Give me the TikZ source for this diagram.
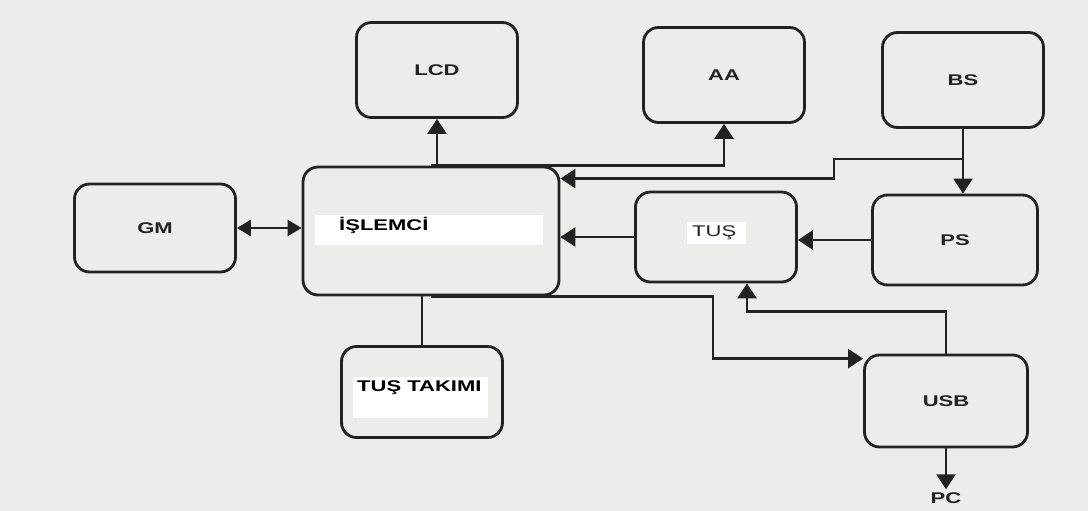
\documentclass[tikz,border=0pt]{standalone}
\usepackage{fontspec}
\setmainfont{Liberation Sans}
\newfontfamily\lblfont[FakeStretch=1.42]{Liberation Sans}
\usetikzlibrary{arrows.meta,calc}
\definecolor{paper}{RGB}{236,236,233}
\definecolor{ink}{RGB}{34,34,34}
\begin{document}
\begin{tikzpicture}[x=1pt,y=-1pt,
  blk/.style={draw=ink, line width=2.8pt, rounded corners=15pt,
    minimum width=161pt, minimum height=95pt, inner sep=0pt,
    font=\lblfont\bfseries\fontsize{15.5}{17}\selectfont, text=ink},
  lbl/.style={inner sep=0pt, font=\lblfont\bfseries\fontsize{15.5}{17}\selectfont, text=black},
  con/.style={draw=ink, line width=2.6pt, -{Triangle[length=15pt,width=19pt]}},
  dcon/.style={draw=ink, line width=2.6pt, {Triangle[length=14pt,width=16pt]}-{Triangle[length=14pt,width=16pt]}},
  plain/.style={draw=ink, line width=2.6pt}]
\fill[paper] (0,0) rectangle (1088,511);
\useasboundingbox (0,0) rectangle (1088,511);

% boxes
\node[blk] (lcd) at (437,70) {LCD};
\node[blk] (aa) at (724,75) {AA};
\node[blk] (bs) at (963,80) {BS};
\node[blk, minimum height=88pt] (gm) at (155,228) {GM};
\node[blk, minimum width=256pt, minimum height=128pt] (isl) at (431,231) {};
\node[blk, minimum height=90pt] (tus) at (716,237) {};
\node[blk, minimum width=165pt, minimum height=90pt] (ps) at (955,240) {PS};
\node[blk, minimum height=91pt] (tt) at (422,392) {};
\node[blk, minimum width=163pt, minimum height=92pt] (usb) at (946,401) {USB};
\node[lbl, text=ink, inner sep=3pt] (pc) at (946,498) {PC};

% white label bands
\fill[white] (315,215) rectangle (543,245);
\node[lbl, anchor=base west] (islt) at (339,230) {İŞLEMCİ};
\fill[white] (353,377) rectangle (488,418);
\node[lbl, anchor=base west] (ttt) at (357,391) {TUŞ TAKIMI};
\fill[white] (687,222) rectangle (746,244);
\node[lbl, anchor=base west, font=\lblfont\fontsize{15.5}{17}\selectfont, text=ink] (tust) at (692,236) {TUŞ};

% connectors
\draw[con] (isl.north -| lcd.south) -- (lcd.south);
\draw[con] (isl.north) -| (aa.south);
\draw[con] (bs.south) -- (bs.south |- ps.north);
\coordinate (j1) at ($(bs.south)+(0,30)$);
\draw[con] (j1) -- ++(-129,0) |- ($(isl.north east)+(0,13)$);
\draw[con] (tus.west) -- (tus.west -| isl.east);
\draw[con] (ps.west) -- (ps.west -| tus.east);
\draw[con] (isl.south) -- ++(282,0) |- ($(usb.north west)+(0,5)$);
\draw[con] (usb.north) -- ++(0,-42) -| ($(tus.south)+(31,0)$);
\draw[plain] (tt.north) -- (tt.north |- isl.south);
\draw[dcon] (gm.east) -- (gm.east -| isl.west);
\draw[con] (usb.south) -- (usb.south |- pc.north);
\end{tikzpicture}
\end{document}
